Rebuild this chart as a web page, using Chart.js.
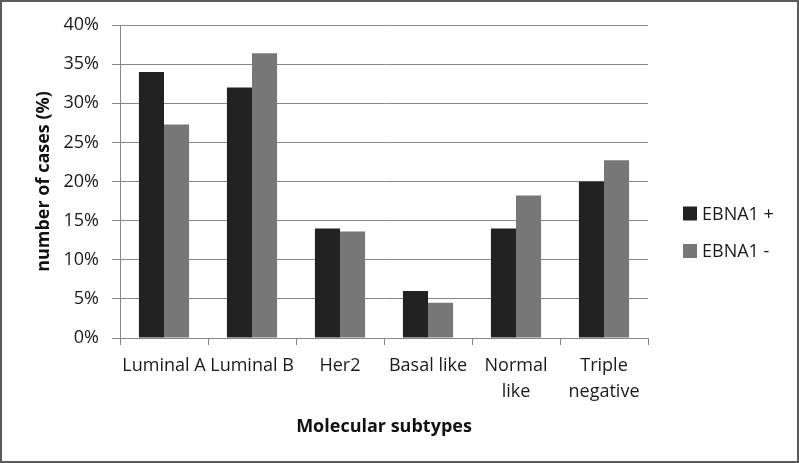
<!DOCTYPE html>
<html>
<head>
<meta charset="utf-8">
<script src="https://cdn.jsdelivr.net/npm/chart.js@4.4.0/dist/chart.umd.min.js"></script>
<style>
  html, body { margin: 0; padding: 0; background: #fff; }
  #wrap { width: 799px; height: 463px; }
</style>
</head>
<body>
<div id="wrap"><canvas id="subtypesChart" width="799" height="463"></canvas></div>
<script>
// ---------- DATA ----------
const categories = ["Luminal A", "Luminal B", "Her2", "Basal like", ["Normal", "like"], ["Triple", "negative"]];
const ebnaPos = [34, 32, 14, 6, 14, 20];
const ebnaNeg = [27.3, 36.4, 13.6, 4.5, 18.2, 22.7];
const seriesNames = ["EBNA1 +", "EBNA1 -"];
const yTicks = [0, 5, 10, 15, 20, 25, 30, 35, 40];

const FONT = "'Open Sans', 'DejaVu Sans', sans-serif";

// ---------- FRAME + LEGEND ----------
const framePlugin = {
  id: "frame",
  beforeDraw(chart) {
    const ctx = chart.ctx;
    ctx.save();
    ctx.fillStyle = "#fff";
    ctx.fillRect(0, 0, chart.width, chart.height);
    ctx.restore();
  },
  afterDraw(chart) {
    const ctx = chart.ctx;
    ctx.save();
    ctx.strokeStyle = "#5a5a5a";
    ctx.lineWidth = 2;
    ctx.strokeRect(1, 1, chart.width - 2, chart.height - 2);

    // legend on the right
    const ys = [213.5, 251];
    chart.data.datasets.forEach((ds, i) => {
      ctx.fillStyle = ds.backgroundColor;
      ctx.fillRect(683, ys[i] - 7, 14, 14);
      ctx.fillStyle = "#1a1a1a";
      ctx.font = "18px " + FONT;
      ctx.textBaseline = "middle";
      ctx.fillText(ds.label, 702, ys[i] + 1);
    });
    ctx.restore();
  }
};

new Chart(document.getElementById("subtypesChart"), {
  type: "bar",
  data: {
    labels: categories,
    datasets: [
      { label: seriesNames[0], data: ebnaPos, backgroundColor: "#222222" },
      { label: seriesNames[1], data: ebnaNeg, backgroundColor: "#777777" }
    ]
  },
  options: {
    responsive: false,
    animation: false,
    devicePixelRatio: 1,
    layout: { padding: { left: 0, top: 25, right: 151, bottom: 25 } },
    datasets: { bar: { categoryPercentage: 0.57, barPercentage: 1.0 } },
    plugins: {
      legend: { display: false },
      tooltip: { enabled: false }
    },
    scales: {
      x: {
        grid: { offset: true, drawOnChartArea: false, color: "#888", tickLength: 7, lineWidth: 1 },
        border: { color: "#888", width: 1 },
        ticks: {
          color: "#1a1a1a",
          font: { family: FONT, size: 18, lineHeight: 1.45 },
          padding: 8,
          maxRotation: 0,
          autoSkip: false
        },
        title: {
          display: true,
          text: "Molecular subtypes",
          color: "#111",
          font: { family: FONT, size: 18, weight: "bold" },
          padding: { top: 0, bottom: 0 }
        },
        afterFit(scale) { scale.height = 100; }
      },
      y: {
        min: 0,
        max: 40,
        afterBuildTicks(scale) { scale.ticks = yTicks.map(v => ({ value: v })); },
        grid: { color: "#888", tickLength: 8, lineWidth: 1 },
        border: { color: "#888", width: 1 },
        ticks: {
          color: "#1a1a1a",
          font: { family: FONT, size: 18 },
          padding: 13,
          callback: v => v + "%"
        },
        title: {
          display: true,
          text: "number of cases (%)",
          color: "#111",
          font: { family: FONT, size: 18, weight: "bold" },
          padding: { top: 33, bottom: 0 }
        },
        afterFit(scale) { scale.width = 120; }
      }
    }
  },
  plugins: [framePlugin]
});
</script>
</body>
</html>
